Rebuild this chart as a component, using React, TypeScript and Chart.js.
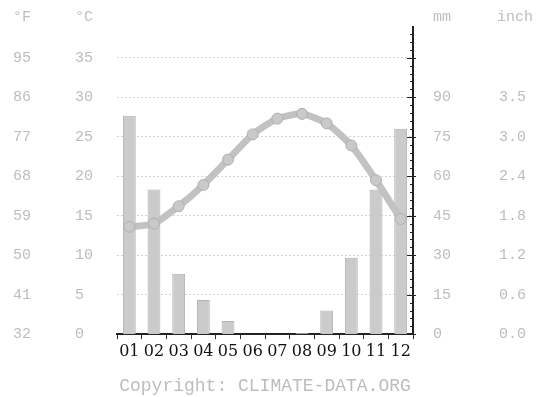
import React, { useEffect, useRef } from "react";
import { Chart, registerables } from "chart.js";

Chart.register(...registerables);

const months = ["01", "02", "03", "04", "05", "06", "07", "08", "09", "10", "11", "12"];
const precipMm = [83, 55, 23, 13, 5, 0, 0, 0.5, 9, 29, 55, 78];
const tempC = [13.6, 14.0, 16.2, 18.9, 22.1, 25.3, 27.3, 27.9, 26.7, 23.9, 19.5, 14.6];
const cTicks = [0, 5, 10, 15, 20, 25, 30, 35];
const fTicks = [32, 41, 50, 59, 68, 77, 86, 95];
const mmTicks = [0, 15, 30, 45, 60, 75, 90];
const inchLabels = ["0.0", "0.6", "1.2", "1.8", "2.4", "3.0", "3.5"];
const copyrightText = "Copyright: CLIMATE-DATA.ORG";

const C_MAX = 38.9;
const LABEL_COLOR = "#bdbdbd";
const LABEL_FONT = { family: "'Liberation Mono', monospace", size: 15 };

const headerPlugin = {
  id: "headers",
  afterDraw(chart: any) {
    const ctx = chart.ctx;
    const s = chart.scales;
    ctx.save();
    ctx.fillStyle = LABEL_COLOR;
    ctx.font = "15px 'Liberation Mono', monospace";
    ctx.textBaseline = "middle";
    ctx.textAlign = "left";
    const y = 9;
    ctx.fillText("°F", s.yF.left, y);
    ctx.fillText("°C", s.yC.left, y);
    ctx.fillText("mm", s.yMM.left + 20, y);
    ctx.fillText("inch", s.yIn.left - 2, y);
    // right axis tick marks
    const x = s.yMM.left;
    ctx.strokeStyle = "#222";
    ctx.lineWidth = 1;
    for (let v = 0; v <= 38; v++) {
      const py = Math.round(s.yC.getPixelForValue(v)) + 0.5;
      const major = v % 5 === 0;
      ctx.beginPath();
      ctx.moveTo(x - (major ? 6 : 3), py);
      ctx.lineTo(x + (major ? 3 : 0), py);
      ctx.stroke();
    }
    ctx.restore();
  },
};

const fixWidth = (w: number) => (axis: any) => {
  axis.width = w;
  axis.paddingTop = 0;
  axis.paddingBottom = 0;
};

export default function App() {
  const ref = useRef<HTMLCanvasElement | null>(null);
  useEffect(() => {
    if (!ref.current) return;
    const chart = new Chart(ref.current, {
      type: "bar",
      data: {
        labels: months,
        datasets: [
          {
            type: "line",
            data: tempC,
            yAxisID: "yC",
            order: 0,
            borderColor: "#c2c2c2",
            borderWidth: 7,
            tension: 0.2,
            pointRadius: 5.5,
            pointBackgroundColor: "#c9c9c9",
            pointBorderColor: "#b0b0b0",
            pointBorderWidth: 1,
          } as any,
          {
            type: "bar",
            data: precipMm,
            yAxisID: "yMM",
            order: 1,
            backgroundColor: "#cbcbcb",
            borderColor: "#b2b2b2",
            borderWidth: 1,
            barPercentage: 0.52,
            categoryPercentage: 1,
          } as any,
        ],
      },
      options: {
        animation: false,
        responsive: true,
        maintainAspectRatio: false,
        layout: { padding: { top: 19, left: 5, right: 0, bottom: 0 } },
        plugins: { legend: { display: false }, tooltip: { enabled: false } },
        scales: {
          x: {
            type: "category",
            offset: true,
            grid: { display: true, drawOnChartArea: false, offset: true, tickLength: 5, color: "#333" },
            border: { display: true, color: "#222", width: 2 },
            ticks: {
              color: "#111",
              font: { family: "'DejaVu Serif', serif", size: 16 },
              padding: 3,
              maxRotation: 0,
              autoSkip: false,
            },
            title: {
              display: true,
              text: copyrightText,
              color: LABEL_COLOR,
              font: { family: "'Liberation Mono', monospace", size: 18 },
              padding: { top: 11, bottom: 0 },
            },
          },
          yC: {
            type: "linear",
            position: "left",
            weight: 1,
            min: 0,
            max: C_MAX,
            afterBuildTicks: (axis: any) => {
              axis.ticks = cTicks.map((v) => ({ value: v }));
            },
            afterFit: fixWidth(42),
            grid: { display: true, drawTicks: false, color: "#d4d4d4", lineWidth: 1 },
            border: { display: false, dash: [2, 2] },
            ticks: { color: LABEL_COLOR, font: LABEL_FONT, crossAlign: "far", padding: 0 },
          },
          yF: {
            type: "linear",
            position: "left",
            weight: 2,
            min: 32,
            max: 32 + C_MAX * 1.8,
            afterBuildTicks: (axis: any) => {
              axis.ticks = fTicks.map((v) => ({ value: v }));
            },
            afterFit: fixWidth(62),
            grid: { display: false, drawTicks: false },
            border: { display: false },
            ticks: { color: LABEL_COLOR, font: LABEL_FONT, crossAlign: "far", padding: 0 },
          },
          yMM: {
            type: "linear",
            position: "right",
            weight: 1,
            min: 0,
            max: C_MAX * 3,
            afterBuildTicks: (axis: any) => {
              axis.ticks = mmTicks.map((v) => ({ value: v }));
            },
            afterFit: fixWidth(86),
            grid: { display: false, drawTicks: false },
            border: { display: true, color: "#222", width: 2 },
            ticks: { color: LABEL_COLOR, font: LABEL_FONT, padding: 20 },
          },
          yIn: {
            type: "linear",
            position: "right",
            weight: 2,
            min: 0,
            max: (C_MAX * 3) / 25.4,
            afterBuildTicks: (axis: any) => {
              axis.ticks = mmTicks.map((v) => ({ value: v / 25.4 }));
            },
            afterFit: fixWidth(38),
            grid: { display: false, drawTicks: false },
            border: { display: false },
            ticks: {
              color: LABEL_COLOR,
              font: LABEL_FONT,
              padding: 0,
              callback: (_v: any, i: number) => inchLabels[i],
            },
          },
        },
      } as any,
      plugins: [headerPlugin],
    });
    return () => chart.destroy();
  }, []);
  return (
    <div style={{ width: 529, height: 389, position: "relative" }}>
      <canvas ref={ref} />
    </div>
  );
}
